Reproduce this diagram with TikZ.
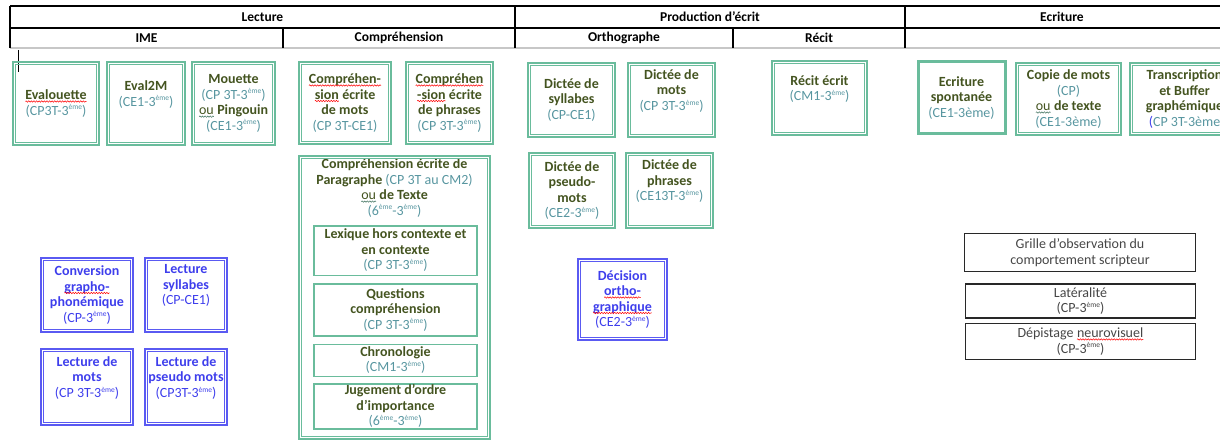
\documentclass[tikz,border=0pt]{standalone}
\usepackage{fontspec}
\setmainfont{Carlito}
\usetikzlibrary{positioning,decorations.pathmorphing}

\definecolor{gframe}{RGB}{106,188,156}
\definecolor{gtitle}{RGB}{68,84,32}
\definecolor{gpar}{RGB}{88,150,160}
\definecolor{bframe}{RGB}{90,90,242}
\definecolor{btext}{RGB}{62,62,236}
\definecolor{kframe}{RGB}{40,40,40}
\definecolor{ktext}{RGB}{70,70,70}

\newcommand{\eme}{\raisebox{0.38em}{\fontsize{7.5}{8}\selectfont ème}}
\newcommand{\niveau}[1]{{\mdseries\color{niv}#1}}
\newcommand{\vague}[2]{\tikz[baseline=(mot.base)]{\node[draw=none, fill=none, inner sep=0pt, outer sep=0pt,
    minimum width=0pt, minimum height=0pt, anchor=base] (mot) at (0,0) {#2};
  \draw[#1, line width=0.5pt, decorate, decoration={snake, amplitude=0.7pt, segment length=2.6pt}]
    ([yshift=-1.8pt]mot.base west) -- ([yshift=-1.8pt]mot.base east);}}
\newcommand{\faute}[1]{\vague{red}{#1}}
\newcommand{\gram}[1]{\vague{gframe!60!black}{\mdseries #1}}

\tikzset{
  hd/.style={font=\fontsize{13.5}{15}\selectfont\bfseries},
  gtxt/.style={align=center, text=gtitle, inner sep=1pt,
    font=\fontsize{14}{15.5}\selectfont\bfseries,
    execute at begin node={\colorlet{niv}{gpar}}},
  gbox/.style={gtxt, draw=gframe, line width=2.5pt},
  gsub/.style={gbox, line width=1.5pt},
  bbox/.style={gbox, draw=bframe, text=btext,
    execute at begin node={\colorlet{niv}{btext}}},
  kbox/.style={draw=kframe, line width=1.3pt, align=center, text=ktext,
    font=\fontsize{14}{15.5}\selectfont},
  inframe/.style={draw=gframe, line width=0.8pt},
}

\begin{document}
\begin{tikzpicture}[x=1pt,y=-1pt]
\useasboundingbox (0,0) rectangle (1220,441);

% table header
\draw[line width=1.1pt] (10,6) -- (1220,6);
\draw[line width=1.1pt] (10,28) -- (1220,28);
\draw[line width=1.8pt, black!22] (10,48) -- (1220,48);
\draw[line width=1.1pt] (10,6) -- (10,48);
\draw[line width=1.1pt] (515,6) -- (515,48);
\draw[line width=1.1pt] (905,6) -- (905,48);
\draw[line width=1.1pt] (283,28) -- (283,48);
\draw[line width=1.1pt] (733,28) -- (733,48);
\draw[line width=1pt] (18,50) -- (18,72);

\node[hd] (lecture) at (262.5,17) {Lecture};
\node[hd] (production) at (710,17) {Production d’écrit};
\node[hd] (ecriture) at (1062,17) {Ecriture};
\node[hd] (ime) at (146.5,38) {IME};
\node[hd] (comprehension) at (399,38) {Compréhension};
\node[hd] (orthographe) at (624,38) {Orthographe};
\node[hd] (recithd) at (819,38) {Récit};

% Lecture - IME
\node[gbox, minimum width=86, minimum height=83] (evalouette) at (56,103.5)
  {\faute{Evalouette}\\\niveau{(CP3T-3\eme)}};
\node[gbox, minimum width=78, minimum height=83] (eval2m) at (146,103.5)
  {Eval2M\\\niveau{(CE1-3\eme)}\\ \strut};
\node[gbox, minimum width=83, minimum height=83] (mouette) at (233.5,103.5)
  {Mouette\\\niveau{(CP 3T-3\eme)}\\\gram{ou} Pingouin\\\niveau{(CE1-3\eme)}};

\node[bbox, minimum width=92, minimum height=74] (conversion) at (87,295)
  {Conversion\\\faute{grapho-}\\phonémique\\\niveau{(CP-3\eme)}};
\node[bbox, minimum width=82, minimum height=74] (lsyllabes) at (186,295)
  {Lecture\\syllabes\\\niveau{(CP-CE1)}\\ \strut};
\node[bbox, minimum width=92, minimum height=76] (lmots) at (87,387)
  {Lecture de\\mots\\\niveau{(CP 3T-3\eme)}\\ \strut};
\node[bbox, minimum width=82, minimum height=76] (lpseudo) at (186,387)
  {Lecture de\\pseudo mots\\\niveau{(CP3T-3\eme)}\\ \strut};

% Lecture - Comprehension
\node[gbox, minimum width=92, minimum height=82] (compmots) at (345,103)
  {\faute{Compréhen-}\\\faute{sion} écrite\\de mots\\\niveau{(CP 3T-CE1)}};
\node[gbox, minimum width=87, minimum height=82] (compphrases) at (449.5,103)
  {\faute{Compréhen}\\\faute{-sion} écrite\\de phrases\\\niveau{(CP 3T-3\eme)}};

\node[gbox, minimum width=191, minimum height=283] (paragraphe) at (394.5,297.5) {};
\node[gtxt, below=3pt of paragraphe.north] (paragtxt)
  {Compréhension écrite de\\Paragraphe \niveau{(CP 3T au CM2)}\\\gram{ou} de Texte\\\niveau{(6\eme-3\eme)}};
\node[gsub, minimum width=163, minimum height=49.5] (lexique) at (395.5,250.5)
  {Lexique hors contexte et\\en contexte\\\niveau{(CP 3T-3\eme)}};
\node[gsub, minimum width=163, minimum height=52, below=7pt of lexique] (questions)
  {Questions\\compréhension\\\niveau{(CP 3T-3\eme)}};
\node[gsub, minimum width=163, minimum height=32, below=7pt of questions] (chronologie)
  {Chronologie\\\niveau{(CM1-3\eme)}};
\node[gsub, minimum width=163, minimum height=44, below=6pt of chronologie] (jugement)
  {Jugement d’ordre\\d’importance\\\niveau{(6\eme-3\eme)}};

% Production d'ecrit
\node[gbox, minimum width=87, minimum height=74] (dsyllabes) at (571.5,100)
  {Dictée de\\syllabes\\\niveau{(CP-CE1)}};
\node[gbox, minimum width=87, minimum height=74] (dmots) at (671.5,100)
  {Dictée de\\mots\\\niveau{(CP 3T-3\eme)}\\ \strut};
\node[gbox, minimum width=86, minimum height=75] (dpseudo) at (572,190.5)
  {Dictée de\\pseudo-\\mots\\\niveau{(CE2-3\eme)}};
\node[gbox, minimum width=87, minimum height=75] (dphrases) at (669.5,190.5)
  {Dictée de\\phrases\\\niveau{(CE13T-3\eme)}\\ \strut};
\node[bbox, minimum width=89, minimum height=81] (decision) at (622.5,299.5)
  {Décision\\\faute{ortho-}\\\faute{graphique}\\\niveau{(CE2-3\eme)}};
\node[gbox, minimum width=95, minimum height=74] (recit) at (819.5,98)
  {Récit écrit\\\niveau{(CM1-3\eme)}\\ \strut};

% Ecriture
\node[gbox, line width=3pt, minimum width=87, minimum height=72] (spontanee) at (961.5,98)
  {Ecriture\\spontanée\\\niveau{(CE1-3ème)}};
\node[gbox, minimum width=105, minimum height=72] (copie) at (1068.5,99)
  {Copie de mots\\\niveau{(CP)}\\\gram{ou} de texte\\\niveau{(CE1-3ème)}};
\node[gbox, minimum width=109, minimum height=72] (transcription) at (1184.5,99)
  {Transcription\\et Buffer\\graphémique\\{\mdseries\color{btext}(}\niveau{CP 3T-3ème}};

\node[kbox, minimum width=231, minimum height=38] (grille) at (1080,252.5)
  {Grille d’observation du\\comportement scripteur};
\node[kbox, minimum width=230, minimum height=33] (lateralite) at (1080.5,301)
  {Latéralité\\(CP-3\eme)};
\node[kbox, minimum width=230, minimum height=36] (depistage) at (1080.5,341.5)
  {Dépistage \faute{neurovisuel}\\(CP-3\eme)};

% inner frames
\foreach \n in {evalouette,eval2m,mouette,compmots,compphrases,paragraphe,
    dsyllabes,dmots,dpseudo,dphrases,recit,copie,transcription}
  \draw[inframe] ([shift={(4pt,-4pt)}]\n.north west) rectangle ([shift={(-4pt,4pt)}]\n.south east);
\foreach \n in {conversion,lsyllabes,lmots,lpseudo,decision}
  \draw[inframe, draw=bframe] ([shift={(4pt,-4pt)}]\n.north west) rectangle ([shift={(-4pt,4pt)}]\n.south east);
\end{tikzpicture}
\end{document}
